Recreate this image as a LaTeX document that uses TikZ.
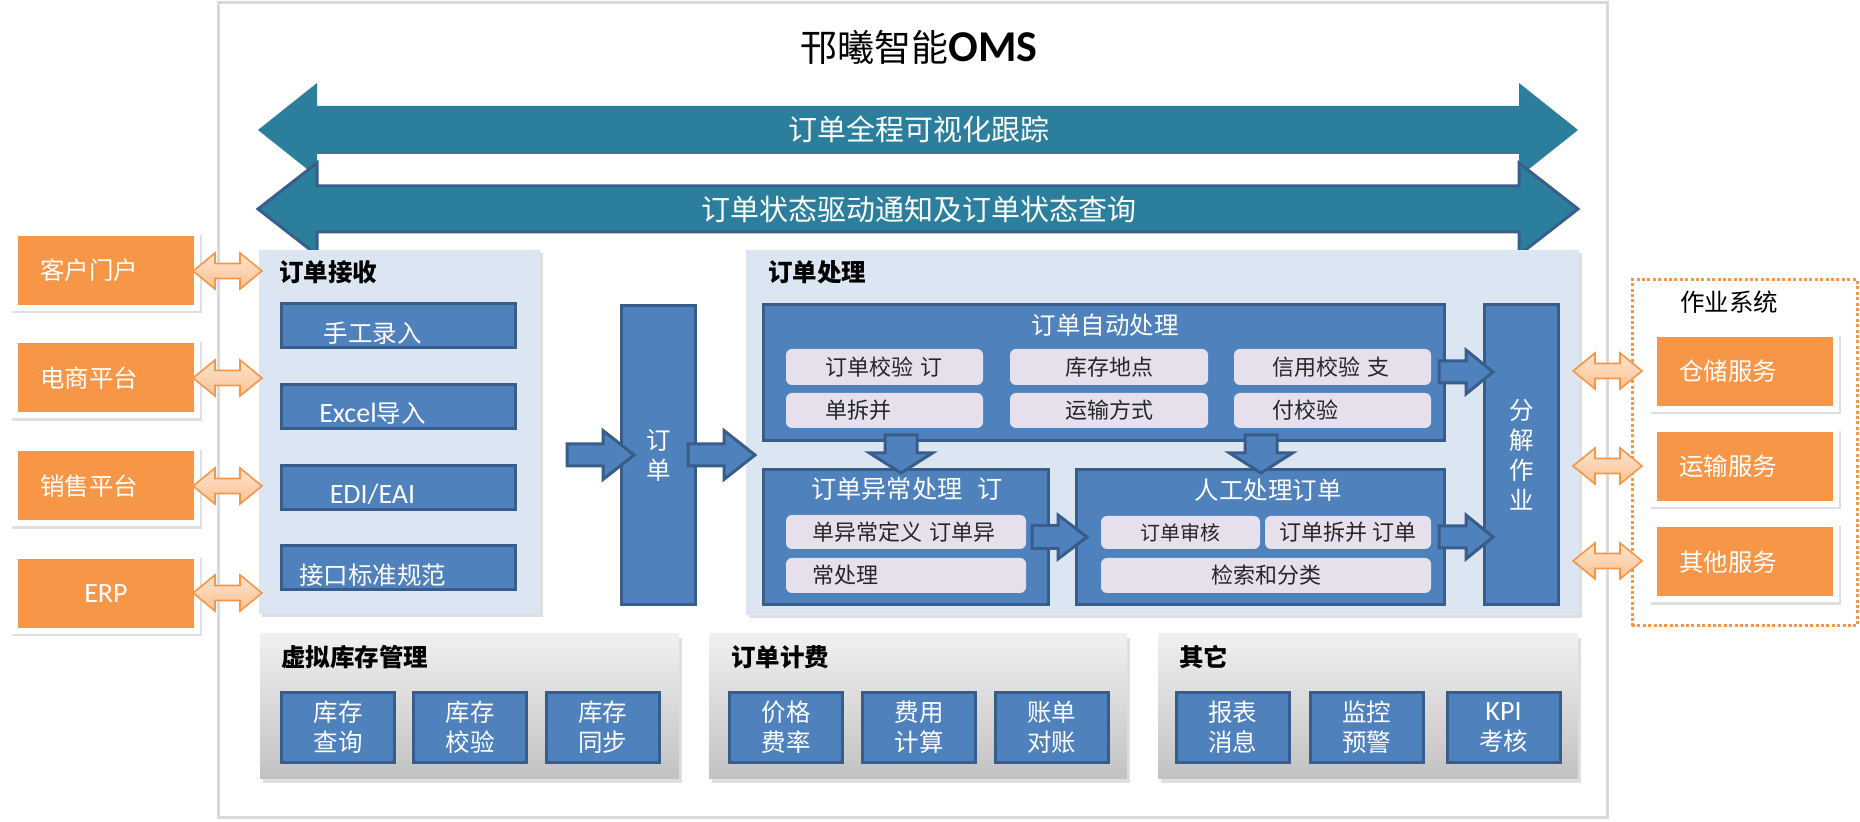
\documentclass[tikz,border=0pt]{standalone}
\usepackage{fontspec}
\setmainfont{Noto Sans CJK SC}
\newfontfamily\calfont{Carlito}
\usetikzlibrary{shadows}

\definecolor{arrowteal}{HTML}{2B7F9C}
\definecolor{arrowline}{HTML}{3A5E8C}
\definecolor{boxblue}{HTML}{4F81BD}
\definecolor{lineblue}{HTML}{385D8A}
\definecolor{panelblue}{HTML}{DCE6F2}
\definecolor{lavender}{HTML}{E5E0EC}
\definecolor{boxorange}{HTML}{F79646}
\definecolor{peachtop}{HTML}{FDE4CF}
\definecolor{peachbot}{HTML}{FAC292}
\definecolor{framegray}{HTML}{D9D9D9}
\definecolor{graytop}{HTML}{F0F0F0}
\definecolor{graybot}{HTML}{C2C2C2}

\newcommand{\boxfont}{\fontsize{12.25pt}{15pt}\selectfont}
\newcommand{\headfont}{\fontsize{12.25pt}{15pt}\selectfont\bfseries}
\newcommand{\lavfont}{\fontsize{11pt}{13pt}\selectfont}
\newcommand{\auditfont}{\fontsize{10pt}{12pt}\selectfont}
\newcommand{\bandfont}{\fontsize{14.5pt}{17pt}\selectfont}
\newcommand{\titlefont}{\fontsize{18.5pt}{22pt}\selectfont}
\newcommand{\latw}[1]{{\calfont\fontsize{14pt}{15pt}\selectfont #1}}

\tikzset{
  frame/.style={draw=framegray,line width=1.5pt,minimum width=694.5pt,minimum height=407.5pt},
  band/.style={fill=arrowteal},
  bandtext/.style={text=white,font=\bandfont},
  panel/.style={fill=panelblue,drop shadow={opacity=.25,shadow xshift=1.5pt,shadow yshift=-1.5pt}},
  greypanel/.style={top color=graytop,bottom color=graybot,drop shadow={opacity=.25,shadow xshift=1.5pt,shadow yshift=-2pt}},
  heading/.style={anchor=west,font=\headfont,inner sep=0pt},
  ext/.style={fill=boxorange,draw=white,line width=3pt,text=white,font=\boxfont,
    minimum width=91pt,minimum height=37.5pt,text width=66pt,align=left,inner sep=0pt,
    drop shadow={opacity=.25,shadow scale=1.045,shadow xshift=.6pt,shadow yshift=-1.6pt}},
  opsframe/.style={draw=boxorange,line width=1.5pt,dash pattern=on 1.5pt off 1.2pt,
    minimum width=112.5pt,minimum height=173pt},
  link/.style={top color=peachtop,bottom color=peachbot,draw=boxorange,line width=.8pt,line join=miter},
  module/.style={fill=boxblue,draw=lineblue,line width=1.5pt,text=white,font=\boxfont},
  func/.style={module,minimum width=56.5pt,minimum height=35pt,align=center},
  item/.style={fill=lavender,rounded corners=3pt,font=\lavfont,text=black!85,inner sep=0pt},
  flow/.style={fill=boxblue,draw=lineblue,line width=1.5pt,line join=miter},
  wtext/.style={text=white,font=\boxfont},
  pics/dbl/.style n args={4}{code={%
    \path[pic actions] (0,0) -- (#2,-#4) -- (#2,-#3) -- (#1-#2,-#3) -- (#1-#2,-#4) -- (#1,0)
      -- (#1-#2,#4) -- (#1-#2,#3) -- (#2,#3) -- (#2,#4) -- cycle;}},
  pics/rarr/.style n args={4}{code={%
    \path[pic actions] (0,-#3) -- (#1-#2,-#3) -- (#1-#2,-#4) -- (#1,0) -- (#1-#2,#4)
      -- (#1-#2,#3) -- (0,#3) -- cycle;}},
  pics/darr/.style n args={4}{code={%
    \path[pic actions] (-#3,0) -- (-#3,#1-#2) -- (-#4,#1-#2) -- (0,#1) -- (#4,#1-#2)
      -- (#3,#1-#2) -- (#3,0) -- cycle;}}
}

\begin{document}
\begin{tikzpicture}[x=0.5pt,y=-0.5pt]
  \fill[white] (0,0) rectangle (1860,822);
  \useasboundingbox (0,0) rectangle (1860,822);

  % outer frame and title
  \node[frame] (oms) at (912.5,410.5) {};
  \node[font=\titlefont] (title) at (919,47) {邗曦智能{\calfont\bfseries\fontsize{22pt}{22pt}\selectfont OMS}};

  % tracking bands
  \pic[band] (track) at (258,130) {dbl={1320}{59}{24}{47}};
  \node[bandtext] (tracktxt) at (919,129) {订单全程可视化跟踪};
  \pic[band,draw=arrowline,line width=1.5pt,line join=miter] (notify) at (258,209) {dbl={1320}{59}{23}{46}};
  \node[bandtext] (notifytxt) at (919,209) {订单状态驱动通知及订单状态查询};

  % panels
  \node[panel,minimum width=140.5pt,minimum height=182pt] (recv) at (399.5,432) {};
  \node[heading] (recvtitle) at (279,272) {订单接收};
  \node[panel,minimum width=416.5pt,minimum height=182.5pt] (proc) at (1162.5,432.5) {};
  \node[heading] (proctitle) at (768,272) {订单处理};
  \node[greypanel,minimum width=209.5pt,minimum height=72.5pt] (vinv) at (469.5,706.5) {};
  \node[heading] (vinvtitle) at (281,657) {虚拟库存管理};
  \node[greypanel,minimum width=209pt,minimum height=72.5pt] (fee) at (918,706.5) {};
  \node[heading] (feetitle) at (731,657) {订单计费};
  \node[greypanel,minimum width=210pt,minimum height=72.5pt] (misc) at (1368,706.5) {};
  \node[heading] (misctitle) at (1179,657) {其它};

  % external systems
  \node[ext] (portal) at (106,270.5) {客户门户};
  \node[ext] (ecom) at (106,378) {电商平台};
  \node[ext] (sales) at (106,486) {销售平台};
  \node[ext,align=center] (erp) at (106,593.5) {\latw{ERP}};
  \pic[link] (l1) at (193,271) {dbl={69}{22}{7.5}{18}};
  \pic[link] (l2) at (193,378) {dbl={69}{22}{7.5}{18}};
  \pic[link] (l3) at (193,486) {dbl={69}{22}{7.5}{18}};
  \pic[link] (l4) at (193,593) {dbl={69}{22}{7.5}{18}};

  \node[opsframe] (ops) at (1744.5,453) {};
  \node[font=\boxfont] (opstitle) at (1729,302) {作业系统};
  \node[ext] (store) at (1745,371.5) {仓储服务};
  \node[ext] (ship) at (1745,466.5) {运输服务};
  \node[ext] (other) at (1745,562) {其他服务};
  \pic[link] (r1) at (1573,371) {dbl={69}{22}{7.5}{18}};
  \pic[link] (r2) at (1573,466) {dbl={69}{22}{7.5}{18}};
  \pic[link] (r3) at (1573,561) {dbl={69}{22}{7.5}{18}};

  % order receiving
  \node[module,minimum width=117pt,minimum height=22pt] (keyin) at (398.5,326) {};
  \node[wtext] (keyintxt) at ([xshift=-13pt,yshift=-3.5pt]keyin.center) {手工录入};
  \node[module,minimum width=117pt,minimum height=22pt] (excel) at (398.5,406.5) {};
  \node[wtext] (exceltxt) at ([xshift=-13pt,yshift=-3.5pt]excel.center) {\latw{Excel}导入};
  \node[module,minimum width=117pt,minimum height=22pt] (edi) at (398.5,487.5) {};
  \node[wtext] (editxt) at ([xshift=-13pt,yshift=-3.5pt]edi.center) {\latw{EDI/EAI}};
  \node[module,minimum width=117pt,minimum height=22pt] (api) at (398.5,568) {};
  \node[wtext] (apitxt) at ([xshift=-13pt,yshift=-3.5pt]api.center) {接口标准规范};

  \node[module,minimum width=37pt,minimum height=149.5pt,align=center] (order) at (658.5,455) {订\\单};
  \node[module,minimum width=37pt,minimum height=150pt,align=center] (split) at (1521.5,454.5) {分\\解\\作\\业};

  % automatic processing
  \node[module,minimum width=340.5pt,minimum height=68pt] (auto) at (1104,372.5) {};
  \node[wtext] (autotitle) at (1105,325) {订单自动处理};
  \node[item,minimum width=98.5pt,minimum height=18pt,text width=59pt,align=left] (check) at (884.5,367) {订单校验 订};
  \node[item,minimum width=98.5pt,minimum height=17.5pt,text width=59pt,align=left] (unpack) at (884.5,410.5) {单拆并};
  \node[item,minimum width=99pt,minimum height=18pt] (site) at (1109,367) {库存地点};
  \node[item,minimum width=99pt,minimum height=17.5pt] (mode) at (1109,410.5) {运输方式};
  \node[item,minimum width=98.5pt,minimum height=18pt,text width=60pt,align=left] (credit) at (1332.5,367) {信用校验 支};
  \node[item,minimum width=98.5pt,minimum height=17.5pt,text width=60pt,align=left] (pay) at (1332.5,410.5) {付校验};

  % exception handling
  \node[module,minimum width=142.5pt,minimum height=67.5pt] (except) at (906,537) {};
  \node[wtext,font=\fontsize{12.6pt}{15pt}\selectfont] (excepttitle) at (907,489) {订单异常处理\hspace{.6em}订};
  \node[item,minimum width=120pt,minimum height=17pt,text width=94pt,align=left] (exdef) at (906,532) {单异常定义 订单异};
  \node[item,minimum width=120pt,minimum height=17.5pt,text width=94pt,align=left] (exdo) at (906,575.5) {常处理};

  % manual handling
  \node[module,minimum width=184pt,minimum height=67.5pt] (human) at (1260.5,537) {};
  \node[wtext] (humantitle) at (1268,490) {人工处理订单};
  \node[item,minimum width=79.5pt,minimum height=16.5pt,font=\auditfont] (audit) at (1180.5,532.5) {订单审核};
  \node[item,minimum width=83pt,minimum height=16.5pt] (merge) at (1348,532.5) {订单拆并 订单};
  \node[item,minimum width=165pt,minimum height=17.5pt] (sort) at (1266,575.5) {检索和分类};

  % flow arrows
  \pic[flow] (a1) at (567,455) {rarr={67}{31}{11}{24.5}};
  \pic[flow] (a2) at (688,455) {rarr={67}{31}{11}{24.5}};
  \pic[flow] (a3) at (1439,372) {rarr={54}{27}{11}{22}};
  \pic[flow] (a4) at (1032,537) {rarr={55}{29}{11.5}{22}};
  \pic[flow] (a5) at (1439,537) {rarr={54}{27}{11}{22}};
  \pic[flow] (d1) at (901,435) {darr={38}{20}{16}{31.5}};
  \pic[flow] (d2) at (1261,435) {darr={38}{20}{16}{31.5}};

  % bottom functions
  \node[func] (query) at (338,727.5) {库存\\查询};
  \node[func] (verify) at (470,727.5) {库存\\校验};
  \node[func] (sync) at (602.5,727.5) {库存\\同步};
  \node[func] (price) at (786,727.5) {价格\\费率};
  \node[func] (cost) at (919,727.5) {费用\\计算};
  \node[func] (bill) at (1051.5,727.5) {账单\\对账};
  \node[func] (report) at (1232.5,727.5) {报表\\消息};
  \node[func] (alarm) at (1366.5,727.5) {监控\\预警};
  \node[func] (kpi) at (1503.5,727.5) {\latw{KPI}\\考核};
\end{tikzpicture}
\end{document}
